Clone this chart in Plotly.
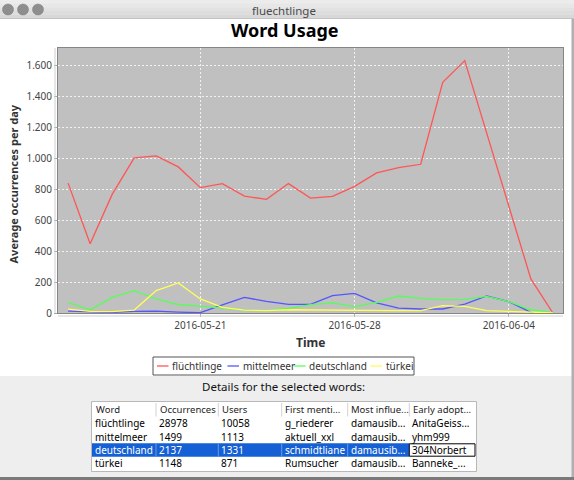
import plotly.graph_objects as go

W, H = 574, 480

# ---------------- data ----------------
dates = ["2016-05-15", "2016-05-16", "2016-05-17", "2016-05-18", "2016-05-19",
         "2016-05-20", "2016-05-21", "2016-05-22", "2016-05-23", "2016-05-24",
         "2016-05-25", "2016-05-26", "2016-05-27", "2016-05-28", "2016-05-29",
         "2016-05-30", "2016-05-31", "2016-06-01", "2016-06-02", "2016-06-03",
         "2016-06-04", "2016-06-05", "2016-06-06"]

fluechtlinge = [841, 448, 768, 1004, 1017, 946, 812, 838, 757, 736, 838, 744,
                755, 820, 907, 941, 963, 1494, 1634, 1160, 700, 221, 0]
mittelmeer = [12, 8, 5, 10, 12, 6, 2, 52, 101, 75, 56, 56, 112, 127, 65, 32,
              26, 26, 58, 110, 73, 4, 0]
deutschland = [69, 21, 101, 145, 91, 55, 45, 32, 19, 15, 30, 54, 65, 41, 69,
               110, 95, 86, 88, 108, 73, 21, 2]
tuerkei = [25, 11, 9, 19, 145, 195, 91, 36, 19, 15, 21, 19, 19, 19, 17, 15,
           15, 47, 43, 15, 11, 4, 0]

series_names = ["flüchtlinge", "mittelmeer", "deutschland", "türkei"]
series_values = [fluechtlinge, mittelmeer, deutschland, tuerkei]

y_ticks = [0, 200, 400, 600, 800, 1000, 1200, 1400, 1600]
y_tick_labels = ["0", "200", "400", "600", "800", "1.000", "1.200", "1.400", "1.600"]
x_ticks = ["2016-05-21", "2016-05-28", "2016-06-04"]

table_headers = ["Word", "Occurrences", "Users", "First menti...", "Most influe...", "Early adopt..."]
table_words = ["flüchtlinge", "mittelmeer", "deutschland", "türkei"]
table_occurrences = [28978, 1499, 2137, 1148]
table_users = [10058, 1113, 1331, 871]
table_first = ["g_riederer", "aktuell_xxl", "schmidtliane", "Rumsucher"]
table_influential = ["damausib...", "damausib...", "damausib...", "damausib..."]
table_early = ["AnitaGeiss...", "yhm999", "304Norbert", "Banneke_..."]
selected_word = "deutschland"

# ---------------- style ----------------
series_colors = ["#ff5555", "#5555ff", "#55ff55", "#ffff55"]
FONT = "Noto Sans"


def X(px):
    return px / W


def Y(py):
    return 1 - py / H


PL, PR, PT, PB = 58, 563, 48, 313

fig = go.Figure()
for name, vals, col in zip(series_names, series_values, series_colors):
    fig.add_trace(go.Scatter(x=dates, y=vals, mode="lines", name=name,
                             line=dict(color=col, width=1.3),
                             showlegend=False, hoverinfo="skip"))

shapes = []
annos = []


def rect(x0, y0, x1, y1, fill, line=None, lw=0, layer="above"):
    shapes.append(dict(type="rect", xref="paper", yref="paper",
                       x0=X(x0), x1=X(x1), y0=Y(y1), y1=Y(y0),
                       fillcolor=fill, layer=layer,
                       line=dict(color=line or fill, width=lw)))


def hline(x0, x1, y, color, w=1):
    shapes.append(dict(type="line", xref="paper", yref="paper",
                       x0=X(x0), x1=X(x1), y0=Y(y), y1=Y(y),
                       line=dict(color=color, width=w)))


def vline(x, y0, y1, color, w=1):
    shapes.append(dict(type="line", xref="paper", yref="paper",
                       x0=X(x), x1=X(x), y0=Y(y0), y1=Y(y1),
                       line=dict(color=color, width=w)))


def text(x, y, s, size=11, color="#000", bold=False, xanchor="center", angle=0):
    annos.append(dict(xref="paper", yref="paper", x=X(x), y=Y(y),
                      text=("<b>%s</b>" % s) if bold else s, showarrow=False,
                      xanchor=xanchor, yanchor="middle", textangle=angle,
                      borderpad=0,
                      font=dict(family=FONT, size=size, color=color)))


# window title bar (approximate gradient)
bands = ["#ececec", "#e7e7e7", "#e2e2e2", "#dddddd", "#d8d8d8"]
bh = 18 / len(bands)
for i, c in enumerate(bands):
    rect(0, i * bh, W, (i + 1) * bh + 0.3, c, layer="below")
hline(0, W, 18.5, "#c2c2c2")
for cx in (8, 23, 38):
    shapes.append(dict(type="circle", xref="paper", yref="paper",
                       x0=X(cx - 5.5), x1=X(cx + 5.5), y0=Y(9.5 + 5.5), y1=Y(9.5 - 5.5),
                       fillcolor="#8e8e8e", line=dict(color="#7c7c7c", width=0.5)))
text(284, 10, "fluechtlinge", size=11.5, color="#4a4a4a")

# lower panel & window edges
rect(0, 376, 572, 477, "#eeeeee", layer="below")
rect(571.5, 18.5, W, H, "#b0b0b0", layer="below")
rect(0, 477, W, H, "#7a7a7a", layer="below")

# chart title & axis titles
text(284.5, 30, "Word Usage", size=18, color="#000", bold=True)
text(12.5, 184, "Average occurrences per day", size=11, color="#333", bold=True, angle=-90)
text(310.5, 342, "Time", size=12, color="#333", bold=True)

# offset axis lines (JFreeChart style)
vline(55, PT, PB, "#cfcfcf")
hline(PL, PR, 316, "#cfcfcf")

# legend
rect(153, 357, 414, 375, "white", line="#555555", lw=1)
leg_x = [157, 227.5, 294, 370.5]
for x0, name, col in zip(leg_x, series_names, series_colors):
    hline(x0, x0 + 11.5, 366, col, 1.3)
    text(x0 + 14, 366, name, size=10, color="#333", xanchor="left")

# details label
text(283, 386, "Details for the selected words:", size=11.5, color="#111")

# table
col_x = [92, 156, 218.3, 281.7, 347.7, 409.3, 476]
head_top, head_bot, row_h = 402, 416.5, 13.4
rect(91.5, 401.5, 476.5, 471.5, "white", line="#b8b8b8", lw=1)
for cx in col_x[1:-1]:
    vline(cx, head_top + 1, head_bot, "#d2d2d2")
for i, h in enumerate(table_headers):
    text(col_x[i] + 2.5, (head_top + head_bot) / 2, h, size=9.5, color="#222", xanchor="left")

rows = list(zip(table_words, table_occurrences, table_users, table_first,
                table_influential, table_early))
sel = table_words.index(selected_word)
y0s = head_bot + sel * row_h
rect(col_x[0], y0s, col_x[5], y0s + row_h, "#1560d4")
for cx in col_x[1:5]:
    vline(cx, y0s, y0s + row_h, "#6c98e4")
rect(col_x[5], y0s + 0.5, col_x[6] - 1, y0s + row_h - 0.5, "white", line="#000", lw=1)
for r, row in enumerate(rows):
    yc = head_bot + r * row_h + row_h / 2
    for c, val in enumerate(row):
        color = "white" if (r == sel and c < 5) else "#000"
        text(col_x[c] + 2, yc, str(val), size=10, color=color, xanchor="left")

axis_common = dict(showgrid=True, gridcolor="#f2f2f2", gridwidth=1, griddash="2px,2px",
                   showline=True, mirror=True, linecolor="#858585", linewidth=1,
                   ticks="outside", ticklen=3, tickcolor="#a8a8a8", zeroline=False,
                   automargin=False, fixedrange=True,
                   tickfont=dict(family=FONT, size=10, color="#444"))

fig.update_layout(
    template="none",
    width=W, height=H,
    margin=dict(l=0, r=0, t=0, b=0),
    paper_bgcolor="white",
    plot_bgcolor="#c0c0c0",
    showlegend=False,
    xaxis=dict(domain=[X(PL), X(PR)], type="date",
               range=["2016-05-14 13:00", "2016-06-06 11:00"],
               tickvals=x_ticks, ticktext=x_ticks, **axis_common),
    yaxis=dict(domain=[Y(PB), Y(PT)], range=[0, 1716],
               tickvals=y_ticks, ticktext=y_tick_labels, **axis_common),
    shapes=shapes,
    annotations=annos,
)

fig.write_html("out.html")
